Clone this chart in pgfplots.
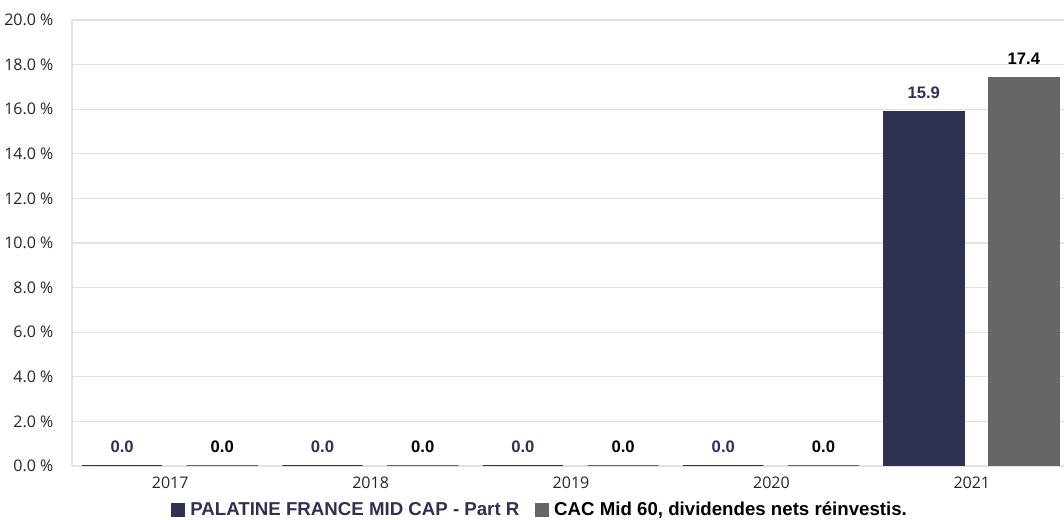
\documentclass[border=0pt]{standalone}
\usepackage{pgfplots}
\pgfplotsset{compat=1.18}
\usepackage{fontspec}
\setmainfont{Liberation Sans}
\newfontfamily\tickfont{Open Sans}
\definecolor{navy}{HTML}{2E3150}
\definecolor{grisbar}{HTML}{666666}
\definecolor{gridc}{HTML}{E2E2E2}

\begin{document}
\begin{tikzpicture}[x=1pt,y=1pt]
\useasboundingbox (-54,-40.5) rectangle (744,349.5);
\begin{axis}[
    at={(0,0)}, anchor=south west,
    scale only axis, width=744pt, height=334.5pt,
    xmin=-0.49, xmax=4.46,
    ymin=0, ymax=20,
    ybar,
    axis x line*=bottom, axis y line*=left,
    x axis line style={draw=gridc, line width=0.8pt},
    y axis line style={draw=gridc, line width=0.8pt},
    major tick length=0pt,
    xtick={0,1,2,3,4},
    xticklabels={2017,2018,2019,2020,2021},
    ytick={0,2,...,20},
    yticklabels={0.0 \%,2.0 \%,4.0 \%,6.0 \%,8.0 \%,10.0 \%,12.0 \%,14.0 \%,16.0 \%,18.0 \%,20.0 \%},
    tick label style={font=\tickfont\fontsize{12}{14}\selectfont, text=black!85},
    yticklabel style={xshift=-10.5pt},
    xticklabel style={yshift=-5pt},
    ymajorgrids, grid style={draw=gridc, line width=0.8pt},
    nodes near coords,
    nodes near coords style={font=\bfseries\fontsize{12.5}{14}\selectfont, anchor=base, yshift=10pt},
    point meta=explicit symbolic,
    legend style={at={(0.472,-0.0987)}, anchor=center, draw=none, fill=none,
        font=\bfseries\fontsize{14}{16}\selectfont, legend columns=-1,
        /tikz/every odd column/.append style={column sep=2pt},
        /tikz/every even column/.append style={column sep=9.5pt}},
    legend image code/.code={\fill[#1] (0pt,-4.75pt) rectangle (9.5pt,4.75pt);},
]
\addplot[fill=navy, draw=navy, line width=1.1pt, bar width=0.4, bar shift=-0.24,
    nodes near coords style={text=navy}]
    coordinates {(0,0) [0.0] (1,0) [0.0] (2,0) [0.0] (3,0) [0.0] (4,15.9) [15.9]};
\addlegendentry{\textcolor{navy}{PALATINE FRANCE MID CAP - Part R}}
\addplot[fill=grisbar, draw=grisbar, line width=1.1pt, bar width=0.355, bar shift=0.26,
    nodes near coords style={text=black}]
    coordinates {(0,0) [0.0] (1,0) [0.0] (2,0) [0.0] (3,0) [0.0] (4,17.4) [17.4]};
\addlegendentry{CAC Mid 60, dividendes nets réinvestis.}
\end{axis}
\end{tikzpicture}
\end{document}
